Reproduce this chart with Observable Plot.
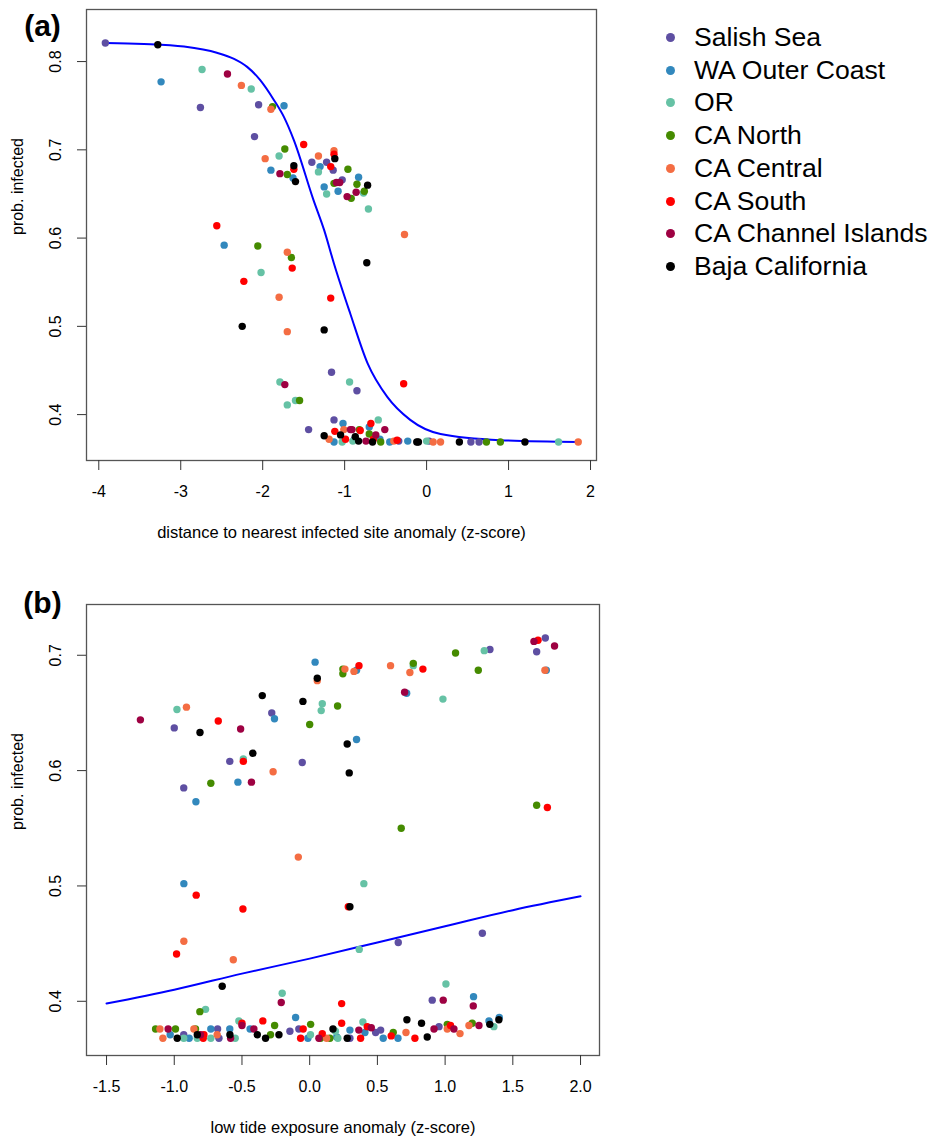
<!DOCTYPE html>
<html>
<head>
<meta charset="utf-8">
<script src="https://cdn.jsdelivr.net/npm/d3@7"></script>
<script src="https://cdn.jsdelivr.net/npm/@observablehq/plot@0.6"></script>
<style>
  body { margin: 0; background: #fff; font-family: "Liberation Sans", Arial, sans-serif; }
  #wrap { position: relative; width: 932px; height: 1139px; overflow: hidden; }
  #panelA { position: absolute; left: 0; top: 0; }
  #panelB { position: absolute; left: 0; top: 570px; }
  #legend { position: absolute; left: 0; top: 0; width: 932px; height: 300px; pointer-events: none; }
  .lrow { position: absolute; left: 666px; height: 30px; display: flex; align-items: center; font-size: 26.6px; color: #000; white-space: nowrap; }
  .ldot { width: 9px; height: 9px; border-radius: 50%; margin-right: 19px; flex: none; }
</style>
</head>
<body>
<div id="wrap">
  <div id="panelA"></div>
  <div id="panelB"></div>
  <div id="legend"></div>
</div>
<script>
// ---------- categories & colours ----------
const regions = ["Salish Sea", "WA Outer Coast", "OR", "CA North", "CA Central", "CA South", "CA Channel Islands", "Baja California"];
const regionColors = ["#5E4FA2", "#3288BD", "#66C2A5", "#458B00", "#F46D43", "#FF0000", "#9E0142", "#000000"];

// ---------- panel (a): distance to nearest infected site anomaly vs prob. infected ----------
const salishA = [[-3.92,0.821],[-2.76,0.748],[-2.05,0.751],[-2.10,0.715],[-1.40,0.686],[-1.22,0.686],[-1.14,0.677],[-1.03,0.666],[-1.44,0.383],[-1.16,0.448],[-0.85,0.427],[-1.13,0.394],[-0.34,0.370],[0.03,0.370],[0.54,0.369],[0.64,0.369],[-0.88,0.372]];
const waA = [[-3.24,0.777],[-1.74,0.750],[-1.30,0.681],[-1.90,0.677],[-1.63,0.668],[-0.83,0.669],[-1.25,0.658],[-1.08,0.653],[-2.47,0.592],[-1.02,0.390],[-0.70,0.386],[-1.13,0.369],[-0.57,0.372],[-0.45,0.369],[-0.23,0.370]];
const orA = [[-2.74,0.791],[-2.14,0.769],[-1.80,0.693],[-1.32,0.675],[-1.22,0.650],[-0.77,0.651],[-0.71,0.633],[-2.02,0.561],[-1.79,0.437],[-1.70,0.411],[-1.60,0.416],[-0.94,0.437],[-0.59,0.394],[-1.03,0.369],[-0.90,0.370],[0.00,0.370],[1.61,0.369]];
const northA = [[-1.88,0.749],[-1.73,0.701],[-1.70,0.672],[-0.96,0.678],[-1.13,0.662],[-0.85,0.661],[-0.76,0.653],[-0.92,0.645],[-2.06,0.591],[-1.65,0.578],[-1.55,0.416],[-0.70,0.378],[-0.56,0.369],[-0.82,0.383],[0.73,0.369],[0.90,0.369]];
const centralA = [[-2.26,0.773],[-1.90,0.746],[-1.97,0.690],[-1.32,0.693],[-1.13,0.699],[-0.27,0.604],[-1.70,0.584],[-1.80,0.533],[-1.70,0.494],[-1.19,0.372],[-1.01,0.383],[0.08,0.369],[0.17,0.369],[1.85,0.369],[-0.40,0.370]];
const southA = [[-1.50,0.706],[-1.62,0.678],[-1.13,0.695],[-1.17,0.681],[-2.56,0.614],[-1.64,0.566],[-2.23,0.551],[-1.17,0.532],[-0.28,0.435],[-0.68,0.390],[-0.81,0.382],[-1.12,0.381],[-0.99,0.372],[-0.65,0.372],[-0.36,0.371]];
const channelA = [[-2.43,0.786],[-1.79,0.673],[-1.10,0.663],[-1.06,0.663],[-0.86,0.652],[-0.97,0.647],[-1.73,0.434],[-0.93,0.383],[-0.91,0.383],[-0.51,0.383],[-0.62,0.377],[-0.74,0.370]];
const bajaA = [[-3.28,0.819],[-1.62,0.682],[-1.60,0.664],[-1.12,0.690],[-0.72,0.660],[-2.25,0.500],[-0.73,0.572],[-1.25,0.496],[-1.25,0.376],[-1.05,0.377],[-0.87,0.375],[-0.83,0.370],[-0.66,0.369],[-0.12,0.369],[-0.10,0.369],[0.40,0.369],[1.20,0.369]];
const curveA = [[-3.92,0.821],[-3.45,0.820],[-2.96,0.817],[-2.56,0.810],[-2.35,0.803],[-2.19,0.794],[-2.03,0.779],[-1.86,0.756],[-1.74,0.737],[-1.62,0.711],[-1.38,0.643],[-1.25,0.609],[-1.13,0.571],[-0.93,0.514],[-0.72,0.458],[-0.48,0.420],[-0.20,0.394],[0.17,0.378],[0.90,0.371],[1.85,0.369]];
const xTicksA = [-4, -3, -2, -1, 0, 1, 2];
const yTicksA = [0.4, 0.5, 0.6, 0.7, 0.8];

// ---------- panel (b): low tide exposure anomaly vs prob. infected ----------
const salishB = [[-1.00,0.637],[-0.28,0.650],[-0.59,0.608],[-0.055,0.607],[-0.93,0.585],[1.331,0.705],[1.74,0.715],[1.676,0.703],[0.654,0.451],[1.275,0.459],[0.905,0.401],[-0.146,0.374],[-0.68,0.376],[-0.93,0.371],[-0.67,0.368],[-0.08,0.376],[0.955,0.378],[0.487,0.373],[0.524,0.375],[0.297,0.368]];
const waB = [[-0.26,0.645],[0.04,0.694],[-0.53,0.590],[-0.84,0.573],[0.346,0.627],[0.346,0.687],[0.716,0.667],[1.747,0.687],[-0.929,0.502],[-0.104,0.386],[1.21,0.404],[1.40,0.386],[1.324,0.383],[0.652,0.368],[0.543,0.368],[0.408,0.373],[0.297,0.375],[0.20,0.369],[-0.013,0.368],[-1.03,0.371],[-0.89,0.368],[-0.73,0.376],[-0.59,0.376],[-0.44,0.376]];
const orB = [[-0.98,0.653],[-0.49,0.610],[0.093,0.658],[0.085,0.652],[0.765,0.691],[0.984,0.662],[1.289,0.704],[0.40,0.502],[0.366,0.445],[-0.203,0.407],[-0.769,0.393],[-0.523,0.383],[1.006,0.415],[0.393,0.382],[1.36,0.378],[0.208,0.368],[0.19,0.374],[-0.93,0.368],[-0.83,0.368],[-0.73,0.368],[-0.55,0.368],[0.006,0.371]];
const northB = [[0.00,0.640],[-0.73,0.589],[0.206,0.656],[0.245,0.684],[0.245,0.688],[0.765,0.693],[1.077,0.702],[1.245,0.687],[1.676,0.570],[0.676,0.550],[-0.811,0.391],[-0.259,0.379],[0.007,0.380],[1.20,0.381],[1.016,0.380],[0.617,0.373],[0.149,0.368],[0.08,0.368],[-1.138,0.376],[-0.991,0.376],[-0.843,0.376],[-0.289,0.371]];
const centralB = [[-0.91,0.655],[0.056,0.678],[-0.27,0.599],[0.26,0.688],[0.327,0.686],[0.597,0.691],[0.74,0.685],[1.737,0.687],[-0.084,0.525],[-0.929,0.452],[-0.564,0.436],[1.176,0.379],[1.11,0.372],[1.016,0.376],[0.711,0.373],[0.125,0.368],[-1.106,0.376],[-1.084,0.368],[-0.855,0.376],[-0.683,0.371]];
const southB = [[-0.675,0.643],[-0.49,0.608],[0.364,0.691],[0.836,0.688],[1.686,0.713],[1.755,0.568],[-0.838,0.492],[-0.493,0.480],[-0.983,0.441],[0.285,0.482],[-0.346,0.383],[0.236,0.398],[0.236,0.381],[1.04,0.379],[0.777,0.368],[0.602,0.370],[0.425,0.378],[0.376,0.368],[0.093,0.372],[-0.048,0.376],[-0.067,0.368],[-0.786,0.368],[-0.781,0.371],[-0.50,0.381]];
const channelB = [[-1.25,0.644],[-0.51,0.636],[-0.43,0.590],[0.701,0.668],[1.656,0.712],[1.808,0.708],[-0.21,0.399],[-0.50,0.379],[0.986,0.401],[1.208,0.396],[1.25,0.379],[1.065,0.376],[0.918,0.376],[0.455,0.377],[0.363,0.375],[-1.045,0.376],[-0.806,0.371],[-0.584,0.368],[-0.412,0.376],[0.068,0.368]];
const bajaB = [[-0.81,0.633],[-0.35,0.665],[-0.05,0.660],[0.056,0.680],[-0.42,0.615],[0.277,0.623],[0.292,0.598],[0.297,0.482],[-0.646,0.413],[0.718,0.384],[0.826,0.381],[1.397,0.384],[1.33,0.380],[0.868,0.369],[0.277,0.368],[0.172,0.376],[-0.978,0.368],[-0.830,0.371],[-0.589,0.371],[-0.387,0.371],[-0.326,0.368],[-0.227,0.371]];
const curveB = [[-1.5,0.398],[-1.0,0.410],[-0.5,0.424],[0.0,0.437],[0.5,0.451],[1.0,0.465],[1.5,0.479],[2.0,0.491]];
const xTicksB = [-1.5, -1.0, -0.5, 0.0, 0.5, 1.0, 1.5, 2.0];
const yTicksB = [0.4, 0.5, 0.6, 0.7];

// ---------- build tables ----------
function table(groups) {
  const out = [];
  groups.forEach((g, i) => g.forEach(([x, y]) => out.push({x, y, region: regions[i]})));
  return out;
}
const pointsA = table([salishA, waA, orA, northA, centralA, southA, channelA, bajaA]);
const pointsB = table([salishB, waB, orB, northB, centralB, southB, channelB, bajaB]);

const FONT = '"Liberation Sans", Arial, sans-serif';
const AXIS = "#333";

function panel({points, curve, xTicks, yTicks, xFmt, xDomain, yDomain, height, marginTop, marginBottom, marginRight, xTitle, tag, tagDy}) {
  return Plot.plot({
    width: 620,
    height,
    marginLeft: 86,
    marginRight,
    marginTop,
    marginBottom,
    style: {fontFamily: FONT, fontSize: "16px", background: "#fff", color: "#000", overflow: "visible"},
    x: {domain: xDomain},
    y: {domain: yDomain},
    color: {domain: regions, range: regionColors},
    marks: [
      Plot.line(curve, {x: d => d[0], y: d => d[1], stroke: "#0000FF", strokeWidth: 2, curve: "monotone-x"}),
      Plot.dot(points, {x: "x", y: "y", fill: "region", r: 3.7, stroke: null}),
      Plot.frame({stroke: "#555", strokeWidth: 1.3}),
      Plot.axisX({ticks: xTicks, tickSize: 10, tickPadding: 15, tickFormat: xFmt, label: null, stroke: AXIS, fontSize: 16}),
      Plot.axisY({ticks: yTicks, tickSize: 9, tickFormat: () => "", label: null, stroke: AXIS}),
      Plot.text(yTicks, {y: d => d, frameAnchor: "left", dx: -30.5, rotate: -90, text: d => d.toFixed(1), textAnchor: "middle", lineAnchor: "middle", fontSize: 16, fill: "#000"}),
      Plot.text([xTitle], {frameAnchor: "bottom", dy: 72, text: d => d, fontSize: 16.5, lineAnchor: "middle", fill: "#000"}),
      Plot.text(["prob. infected"], {frameAnchor: "left", dx: -69, rotate: -90, text: d => d, fontSize: 16, lineAnchor: "middle", fill: "#000"}),
      Plot.text([tag], {frameAnchor: "top-left", dx: -44, dy: tagDy, text: d => d, fontSize: 30, fontWeight: "bold", textAnchor: "middle", lineAnchor: "middle", fill: "#000"})
    ]
  });
}

document.getElementById("panelA").append(panel({
  points: pointsA, curve: curveA, xTicks: xTicksA, yTicks: yTicksA,
  xFmt: d => String(d), xDomain: [-4.15, 2.073], yDomain: [0.348, 0.859],
  height: 560, marginTop: 9, marginBottom: 100, marginRight: 24,
  xTitle: "distance to nearest infected site anomaly (z-score)", tag: "(a)", tagDy: 17
}));

document.getElementById("panelB").append(panel({
  points: pointsB, curve: curveB, xTicks: xTicksB, yTicks: yTicksB,
  xFmt: d => d.toFixed(1), xDomain: [-1.648, 2.14], yDomain: [0.353, 0.744],
  height: 569, marginTop: 34, marginBottom: 84, marginRight: 21,
  xTitle: "low tide exposure anomaly (z-score)", tag: "(b)", tagDy: -1
}));

// ---------- legend ----------
const legend = document.getElementById("legend");
regions.forEach((r, i) => {
  const row = document.createElement("div");
  row.className = "lrow";
  row.style.top = (22.5 + 32.7 * i) + "px";
  const dot = document.createElement("span");
  dot.className = "ldot";
  dot.style.background = regionColors[i];
  const txt = document.createElement("span");
  txt.textContent = r;
  row.append(dot, txt);
  legend.append(row);
});
</script>
</body>
</html>
